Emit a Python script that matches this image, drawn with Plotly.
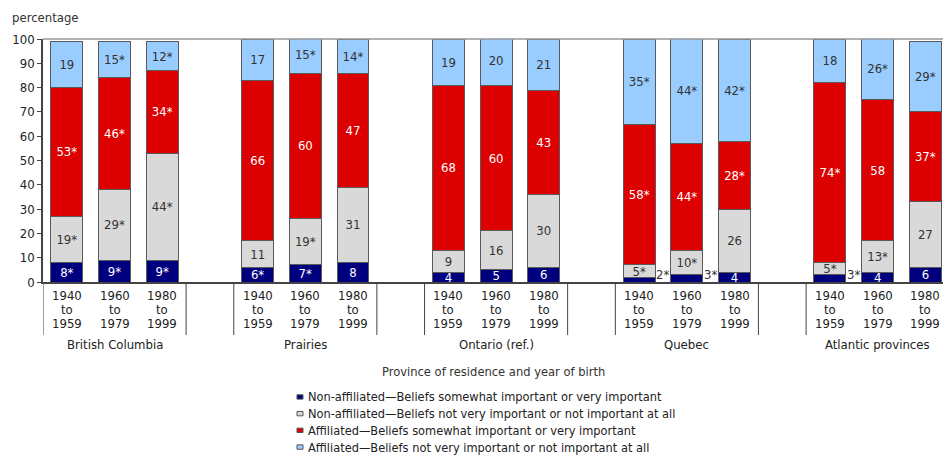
import plotly.graph_objects as go

# ---------------- data ----------------
provinces = ["British Columbia", "Prairies", "Ontario (ref.)", "Quebec", "Atlantic provinces"]
cohort_start = ["1940", "1960", "1980"]
cohort_end = ["1959", "1979", "1999"]

series_names = [
    "Non-affiliated\u2014Beliefs somewhat important or very important",
    "Non-affiliated\u2014Beliefs not very important or not important at all",
    "Affiliated\u2014Beliefs somewhat important or very important",
    "Affiliated\u2014Beliefs not very important or not important at all",
]

nonaff_important = [8, 9, 9, 6, 7, 8, 4, 5, 6, 2, 3, 4, 3, 4, 6]
nonaff_important_sig = [1, 1, 1, 1, 1, 0, 0, 0, 0, 1, 1, 0, 1, 0, 0]
nonaff_not_important = [19, 29, 44, 11, 19, 31, 9, 16, 30, 5, 10, 26, 5, 13, 27]
nonaff_not_important_sig = [1, 1, 1, 0, 1, 0, 0, 0, 0, 1, 1, 0, 1, 1, 0]
aff_important = [53, 46, 34, 66, 60, 47, 68, 60, 43, 58, 44, 28, 74, 58, 37]
aff_important_sig = [1, 1, 1, 0, 0, 0, 0, 0, 0, 1, 1, 1, 1, 0, 1]
aff_not_important = [19, 15, 12, 17, 15, 14, 19, 20, 21, 35, 44, 42, 18, 26, 29]
aff_not_important_sig = [0, 1, 1, 0, 1, 1, 0, 0, 0, 1, 1, 1, 0, 1, 1]

y_ticks = [0, 10, 20, 30, 40, 50, 60, 70, 80, 90, 100]

# ---------------- styling ----------------
FONT = "DejaVu Sans Condensed, Liberation Sans Narrow, Arial Narrow, sans-serif"
colors = ["#00007f", "#d9d9d9", "#dd0000", "#99ccff"]
text_colors = ["#ffffff", "#333333", "#ffffff", "#333333"]
values = [nonaff_important, nonaff_not_important, aff_important, aff_not_important]
sigs = [nonaff_important_sig, nonaff_not_important_sig, aff_important_sig, aff_not_important_sig]

n_c = len(cohort_start)
slot = n_c + 1  # one empty slot between provinces
xpos = [g * slot + i for g in range(len(provinces)) for i in range(n_c)]
BAR_W = 0.67
SMALL = 4  # values below this are labelled beside the bar

fig = go.Figure()
annotations = []
for k in range(4):
    labels = []
    for j, v in enumerate(values[k]):
        lab = f"{v}*" if sigs[k][j] else f"{v}"
        if v < SMALL:
            labels.append("")
            annotations.append(dict(x=xpos[j] + BAR_W / 2, y=0, xref="x", yref="y",
                                    text=lab, showarrow=False, xanchor="left", yanchor="bottom",
                                    xshift=-1, yshift=-2,
                                    font=dict(family=FONT, size=13, color="#333333")))
        else:
            labels.append(lab)
    fig.add_trace(go.Bar(
        x=xpos, y=values[k], name=series_names[k], width=BAR_W,
        marker=dict(color=colors[k], line=dict(color="#5a5a5a", width=1)),
        text=labels, textposition="inside", insidetextanchor="middle", textangle=0,
        textfont=dict(family=FONT, size=13, color=text_colors[k]),
        hoverinfo="skip", showlegend=False,
    ))

# x tick labels (three lines) and province names
for j, x in enumerate(xpos):
    i = j % n_c
    for txt, yy in [(cohort_start[i], -0.0535), ("to", -0.115), (cohort_end[i], -0.169)]:
        annotations.append(dict(x=x, y=yy, xref="x", yref="paper", text=txt, showarrow=False,
                                xanchor="center", yanchor="middle",
                                font=dict(family=FONT, size=13, color="#222222")))
shapes = []
for g, prov in enumerate(provinces):
    annotations.append(dict(x=g * slot + (n_c - 1) / 2, y=-0.259, xref="x", yref="paper", text=prov,
                            showarrow=False, xanchor="center", yanchor="middle",
                            font=dict(family=FONT, size=13, color="#222222")))
    for b in (g * slot - 0.5, g * slot + n_c - 0.5):
        shapes.append(dict(type="line", xref="x", yref="paper", x0=b, x1=b, y0=0, y1=-0.218,
                           line=dict(color="#444444", width=1)))

# top frame line
shapes.append(dict(type="line", xref="paper", yref="paper", x0=0, x1=1, y0=1, y1=1,
                   line=dict(color="#999999", width=1.5)))

annotations.append(dict(x=0.5, y=-0.37, xref="paper", yref="paper",
                        text="Province of residence and year of birth", showarrow=False,
                        xanchor="center", yanchor="middle",
                        font=dict(family=FONT, size=12.8, color="#333333")))
annotations.append(dict(x=-0.037, y=1.09, xref="paper", yref="paper", text="percentage",
                        showarrow=False, xanchor="left", yanchor="middle",
                        font=dict(family=FONT, size=13, color="#333333")))

# legend (drawn as marks + text, built from the series list)
LEG_X = 0.2822
LEG_Y0 = -0.473
LEG_DY = 0.0687
for k, name in enumerate(series_names):
    yy = LEG_Y0 - k * LEG_DY
    shapes.append(dict(type="rect", xref="paper", yref="paper",
                       x0=LEG_X, x1=LEG_X + 0.0067, y0=yy - 0.009, y1=yy + 0.009,
                       fillcolor=colors[k], line=dict(color="#555555", width=1)))
    annotations.append(dict(x=LEG_X + 0.0105, y=yy, xref="paper", yref="paper", text=name,
                            showarrow=False, xanchor="left", yanchor="middle",
                            font=dict(family=FONT, size=12.7, color="#222222")))

fig.update_layout(
    width=943, height=458,
    margin=dict(l=43, r=0, t=39, b=176),
    barmode="stack",
    paper_bgcolor="white", plot_bgcolor="white",
    font=dict(family=FONT, size=13, color="#222222"),
    uniformtext=dict(minsize=13, mode="show"),
    showlegend=False,
    xaxis=dict(range=[-0.5, xpos[-1] + 0.37], showticklabels=False, showgrid=False,
               zeroline=False, showline=True, linecolor="#444444", linewidth=1.5, ticks="",
               automargin=False),
    yaxis=dict(range=[0, 100], tickvals=y_ticks, showgrid=False, zeroline=False,
               showline=True, linecolor="#444444", linewidth=1.5, ticks="outside",
               ticklen=4, tickcolor="#444444", automargin=False,
               tickfont=dict(family=FONT, size=13, color="#222222")),
    annotations=annotations,
    shapes=shapes,
)

fig.write_html("out.html", config={"displayModeBar": False},
               post_script="document.body.style.margin='0';")
